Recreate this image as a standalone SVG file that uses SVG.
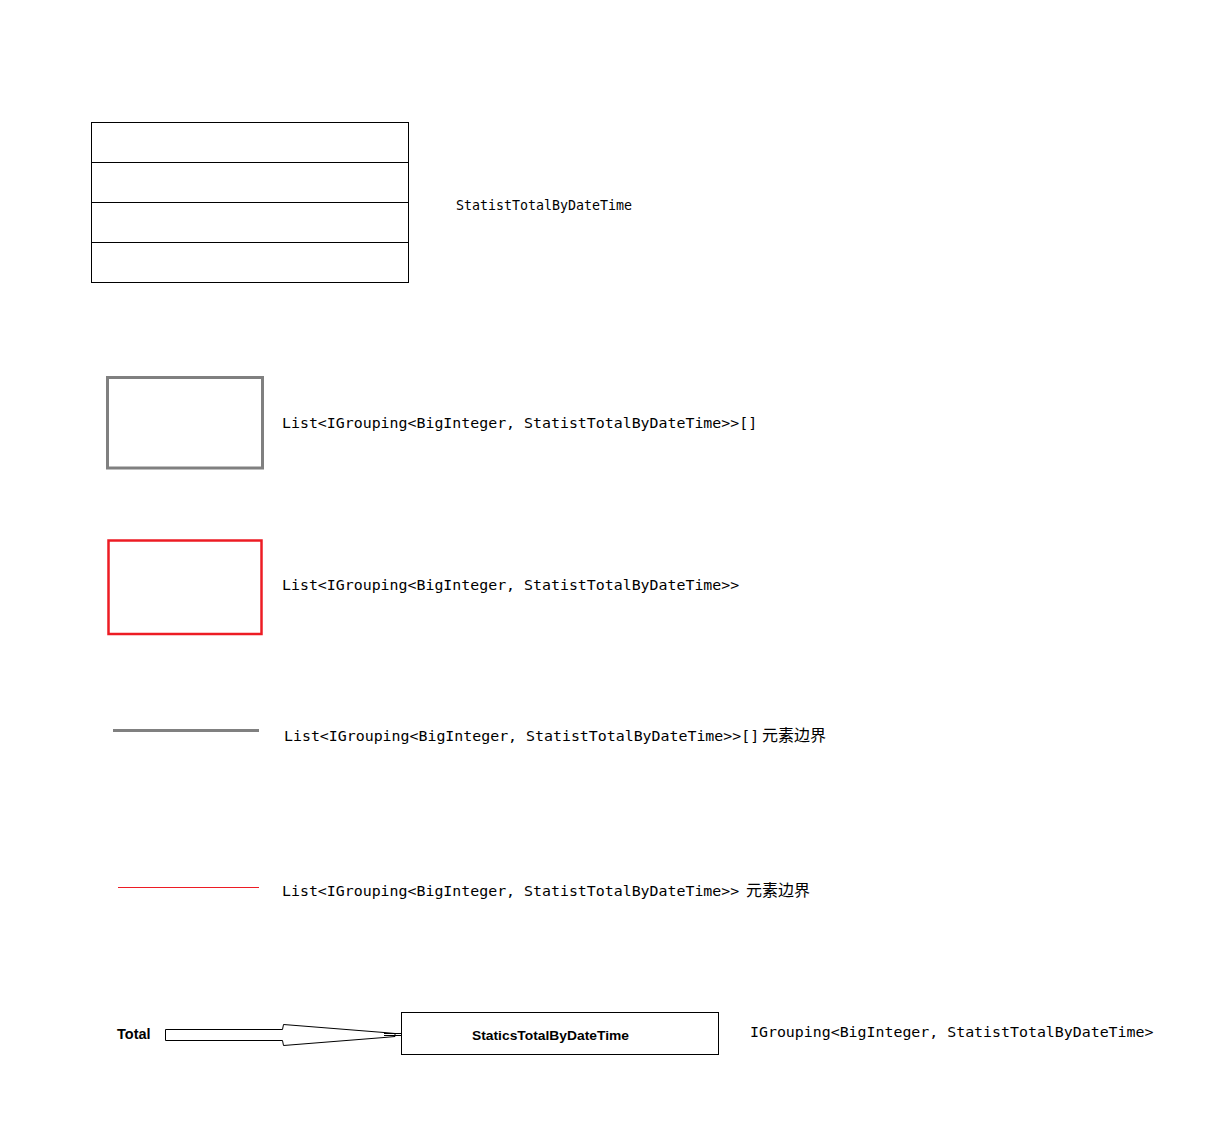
<svg xmlns="http://www.w3.org/2000/svg" width="1210" height="1122" viewBox="0 0 1210 1122">
  <style>
    .mono { font-family: "DejaVu Sans Mono", "Liberation Mono", monospace; font-size: 14.9px; fill: #000; }
    .cjk { font-family: "Noto Sans CJK SC", sans-serif; font-size: 16px; }
    .bold { font-family: "Liberation Sans", Arial, sans-serif; font-weight: bold; font-size: 13px; fill: #000; }
    .thin { fill: #fff; stroke: #000; stroke-width: 1; }
  </style>
  <rect width="1210" height="1122" fill="#fff"/>

  <!-- record layout: four stacked rows -->
  <g id="record">
    <rect class="thin" x="91.5" y="122.5" width="317" height="160"/>
    <line x1="91.5" y1="162.5" x2="408.5" y2="162.5" stroke="#000"/>
    <line x1="91.5" y1="202.5" x2="408.5" y2="202.5" stroke="#000"/>
    <line x1="91.5" y1="242.5" x2="408.5" y2="242.5" stroke="#000"/>
    <text class="mono" x="456" y="210" style="font-size:13.3px">StatistTotalByDateTime</text>
  </g>

  <!-- legend: array of groupings -->
  <g id="array-box">
    <rect x="107.5" y="377.5" width="155" height="90.5" fill="#fff" stroke="#808080" stroke-width="3"/>
    <text class="mono" x="282" y="428">List&lt;IGrouping&lt;BigInteger, StatistTotalByDateTime&gt;&gt;[]</text>
  </g>

  <!-- legend: list of groupings -->
  <g id="list-box">
    <rect x="108.5" y="540.5" width="153" height="93.5" fill="#fff" stroke="#ed1c24" stroke-width="2.5"/>
    <text class="mono" x="282" y="590">List&lt;IGrouping&lt;BigInteger, StatistTotalByDateTime&gt;&gt;</text>
  </g>

  <!-- legend: array element boundary -->
  <g id="array-edge">
    <line x1="113" y1="730.5" x2="259" y2="730.5" stroke="#808080" stroke-width="3"/>
    <text class="mono" x="284" y="741">List&lt;IGrouping&lt;BigInteger, StatistTotalByDateTime&gt;&gt;[]<tspan class="cjk" x="762">元素边界</tspan></text>
  </g>

  <!-- legend: list element boundary -->
  <g id="list-edge">
    <line x1="118" y1="887.5" x2="259" y2="887.5" stroke="#ed1c24" stroke-width="1"/>
    <text class="mono" x="282" y="896">List&lt;IGrouping&lt;BigInteger, StatistTotalByDateTime&gt;&gt;<tspan class="cjk" x="746">元素边界</tspan></text>
  </g>

  <g id="total">
    <text class="bold" x="117" y="1039" style="font-size:14.5px">Total</text>
  </g>

  <g id="statics">
    <rect class="thin" x="401.5" y="1012.5" width="317" height="42"/>
    <text class="bold" x="550.5" y="1040" text-anchor="middle" textLength="157" lengthAdjust="spacingAndGlyphs">StaticsTotalByDateTime</text>
  </g>

  <g id="grouping-label">
    <text class="mono" x="750" y="1037">IGrouping&lt;BigInteger, StatistTotalByDateTime&gt;</text>
  </g>

  <!-- block arrow from the statics box to Total -->
  <g id="connectors">
    <polygon class="thin" points="165.5,1029.5 282.5,1029.5 283.5,1024.5 384,1032.5 395,1033.5 395,1036.5 384,1037.5 283.5,1045.5 282.5,1040.5 165.5,1040.5"/>
    <line x1="384" y1="1033.5" x2="401" y2="1033.5" stroke="#000"/>
    <line x1="384" y1="1035.5" x2="401" y2="1035.5" stroke="#000"/>
  </g>
</svg>
